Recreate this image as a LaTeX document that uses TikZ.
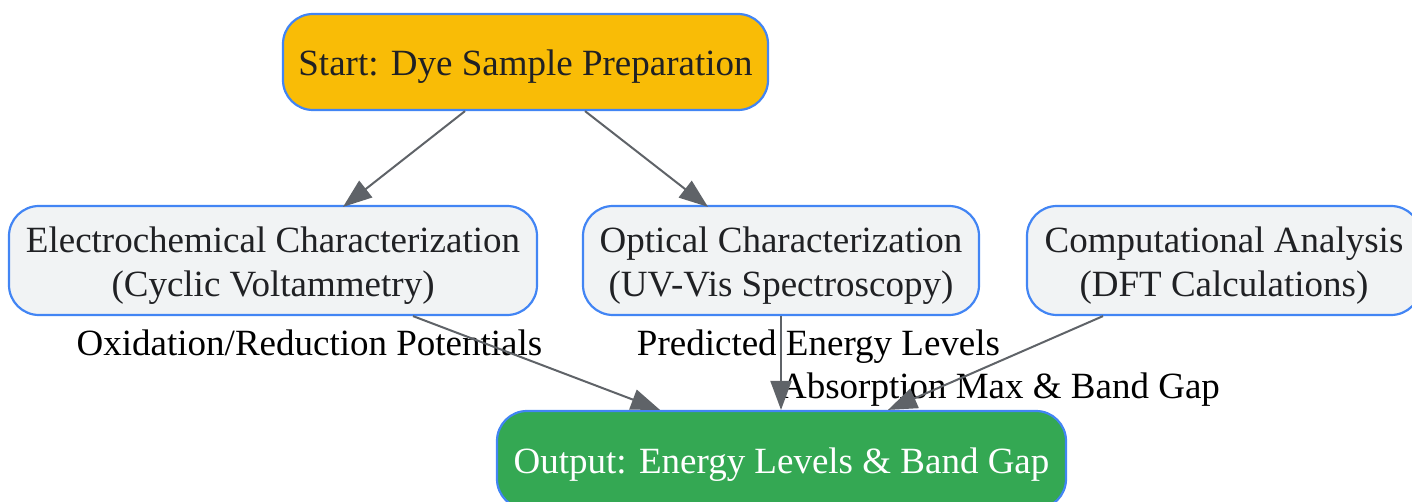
\documentclass[tikz,border=0pt]{standalone}
\usepackage{fontspec}
\setmainfont{Liberation Serif}
\usetikzlibrary{arrows.meta,calc}
\definecolor{startfill}{HTML}{F9BC06}
\definecolor{bluestroke}{HTML}{4285F4}
\definecolor{procfill}{HTML}{F1F3F4}
\definecolor{outfill}{HTML}{34A853}
\definecolor{edgegray}{HTML}{5F6368}
\definecolor{txt}{HTML}{202124}
\newcommand{\twolines}[2]{\begin{tabular}[t]{@{}c@{}}#1\\#2\end{tabular}}
\begin{document}
\begin{tikzpicture}[x=1pt,y=-1pt,
  font=\fontsize{37}{44}\selectfont,
  box/.style={draw=bluestroke,line width=2.2pt,rounded corners=30pt,inner sep=0pt,text=txt},
  oneline/.style={text height=35.7pt,text depth=8.3pt},
  proc/.style={box,fill=procfill,minimum height=109pt,text height=30pt,text depth=46.6pt},
  edge/.style={draw=edgegray,line width=2pt,-{Triangle[length=29pt,width=21pt]}},
  lbl/.style={text=black,inner sep=0pt,anchor=base}]
\useasboundingbox (0,0) rectangle (1412,502);
\node[box,oneline,fill=startfill,minimum width=485pt,minimum height=96pt] (start) at (525.5,62) {Start: Dye Sample Preparation};
\node[proc,minimum width=528pt] (ec) at (273,260.5) {\twolines{Electrochemical Characterization}{(Cyclic Voltammetry)}};
\node[proc,minimum width=396pt] (opt) at (781,260.5) {\twolines{Optical Characterization}{(UV-Vis Spectroscopy)}};
\node[proc,minimum width=394pt] (comp) at (1224,260.5) {\twolines{Computational Analysis}{(DFT Calculations)}};
\node[box,oneline,fill=outfill,text=white,minimum width=569pt,minimum height=98pt] (out) at (781.5,460) {Output: Energy Levels \& Band Gap};
\node[lbl] (l1) at (309.5,355) {Oxidation/Reduction Potentials};
\node[lbl] (l2) at (818.5,355) {Predicted Energy Levels};
\node[lbl] (l3) at (1000,398.5) {Absorption Max \& Band Gap};
\draw[edge] ([xshift=-60.5pt]start.south) -- ([xshift=70pt,yshift=-2pt]ec.north);
\draw[edge] ([xshift=59.5pt]start.south) -- ([xshift=-73pt,yshift=-2pt]opt.north);
\draw[edge] ([xshift=140pt]ec.south) -- ([xshift=-121.5pt]out.north);
\draw[edge] (opt.south) -- (opt.south |- out.north);
\draw[edge] ([xshift=-121pt]comp.south) -- ([xshift=106.5pt]out.north);
\end{tikzpicture}
\end{document}
